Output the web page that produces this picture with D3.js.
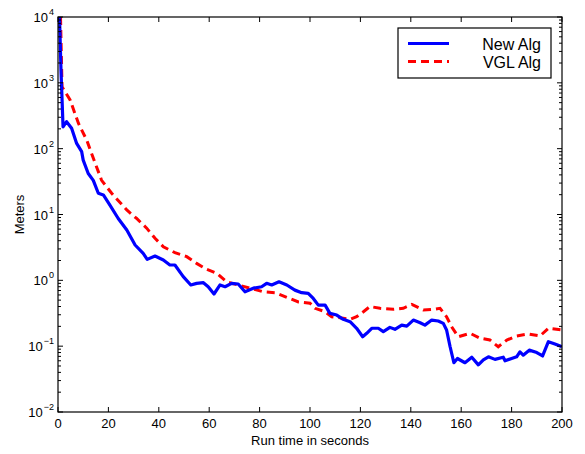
<!DOCTYPE html>
<html>
<head>
<meta charset="utf-8">
<script src="https://cdn.jsdelivr.net/npm/d3@7"></script>
<style>
  body { margin: 0; background: #fff; }
  svg { display: block; font-family: "Liberation Sans", Arial, Helvetica, sans-serif; }
</style>
</head>
<body>
<div id="chart"></div>
<script>
//Data
const newAlgTime = [0.6, 1.2, 2.0, 3.4, 5.4, 7.4, 9.4, 10.0, 12.0, 14.0, 16.0, 18.0, 20.6, 23.9, 27.3, 30.6, 33.8, 35.4, 38.5, 41.8, 44.4, 46.4, 49.7, 52.7, 55.0, 57.7, 59.6, 61.9, 64.3, 66.3, 68.9, 71.5, 74.2, 77.5, 80.8, 82.8, 84.8, 87.7, 90.8, 94.0, 96.7, 99.3, 101.3, 103.3, 106.0, 107.9, 110.6, 113.2, 115.9, 118.5, 120.9, 122.5, 124.5, 127.1, 129.1, 131.7, 133.7, 136.4, 138.4, 141.0, 143.7, 145.6, 148.3, 150.9, 152.9, 154.2, 155.6, 157.1, 158.5, 161.5, 164.2, 166.8, 168.8, 170.8, 173.4, 176.7, 177.4, 180.0, 182.0, 183.3, 184.6, 187.0, 190.0, 192.3, 194.6, 197.2, 200];
const newAlgMeters = [10000, 1500, 215, 257, 204, 120, 90, 67, 42, 33, 21, 19.8, 13.9, 8.7, 5.8, 3.44, 2.57, 2.08, 2.34, 2.04, 1.71, 1.71, 1.14, 0.85, 0.90, 0.92, 0.80, 0.62, 0.85, 0.80, 0.90, 0.88, 0.67, 0.76, 0.80, 0.90, 0.85, 0.95, 0.85, 0.71, 0.65, 0.635, 0.53, 0.42, 0.42, 0.315, 0.297, 0.256, 0.235, 0.187, 0.139, 0.157, 0.187, 0.187, 0.166, 0.193, 0.180, 0.209, 0.202, 0.249, 0.227, 0.209, 0.249, 0.241, 0.222, 0.176, 0.098, 0.056, 0.065, 0.056, 0.068, 0.052, 0.062, 0.069, 0.063, 0.068, 0.060, 0.065, 0.069, 0.082, 0.073, 0.087, 0.080, 0.071, 0.117, 0.108, 0.098];

const vglAlgTime = [1.0, 1.6, 4.8, 8.1, 11.4, 13.3, 17.3, 21.3, 27.3, 31.2, 35.2, 38.5, 41.8, 46.4, 51.1, 55.0, 59.0, 63.0, 66.9, 71.5, 76.2, 81.5, 86.1, 90.8, 95.4, 100.0, 102.0, 106.0, 108.6, 111.9, 115.9, 118.5, 121.2, 123.8, 127.8, 133.1, 137.0, 140.4, 145.0, 148.9, 151.6, 154.2, 156.2, 158.8, 163.5, 167.5, 171.4, 174.7, 178.1, 182.0, 186.6, 191.3, 194.6, 200];
const vglAlgMeters = [10000, 870, 550, 243, 135, 85, 33, 21, 11.7, 8.7, 6.2, 4.35, 3.24, 2.63, 2.29, 1.81, 1.47, 1.28, 0.95, 0.85, 0.76, 0.67, 0.65, 0.55, 0.47, 0.45, 0.376, 0.334, 0.28, 0.27, 0.256, 0.28, 0.334, 0.40, 0.376, 0.363, 0.376, 0.43, 0.354, 0.363, 0.376, 0.28, 0.197, 0.139, 0.157, 0.132, 0.124, 0.098, 0.124, 0.143, 0.153, 0.143, 0.187, 0.176];

const xTicks = [0, 20, 40, 60, 80, 100, 120, 140, 160, 180, 200];
const yDecades = [-2, -1, 0, 1, 2, 3, 4];
const seriesNames = ["New Alg", "VGL Alg"];

//Chart Variables and Constants
const width = 585;
const height = 454;
const margin = { top: 17, right: 23, bottom: 42, left: 58 };
const innerW = width - margin.left - margin.right;
const innerH = height - margin.top - margin.bottom;

const svg = d3
  .select("#chart")
  .append("svg")
  .attr("width", width)
  .attr("height", height);

const x = d3.scaleLinear().domain([0, 200]).range([0, innerW]);
const y = d3.scaleLog().domain([1e-2, 1e4]).range([innerH, 0]);

const g = svg
  .append("g")
  .attr("transform", `translate(${margin.left}, ${margin.top})`);

//Clip lines to the axes box
g.append("clipPath")
  .attr("id", "clip")
  .append("rect")
  .attr("width", innerW)
  .attr("height", innerH);

const line = d3
  .line()
  .x((d) => x(d[0]))
  .y((d) => y(d[1]));

const newAlg = newAlgTime.map((t, i) => [t, newAlgMeters[i]]);
const vglAlg = vglAlgTime.map((t, i) => [t, vglAlgMeters[i]]);

const lines = g.append("g").attr("clip-path", "url(#clip)");

lines
  .append("path")
  .datum(vglAlg)
  .attr("d", line)
  .attr("fill", "none")
  .attr("stroke", "#ff0000")
  .attr("stroke-width", 3)
  .attr("stroke-dasharray", "8,5");

lines
  .append("path")
  .datum(newAlg)
  .attr("d", line)
  .attr("fill", "none")
  .attr("stroke", "#0000ff")
  .attr("stroke-width", 3.2)
  .attr("stroke-linejoin", "round");

//Ticks pointing inward on all four sides
const minorTicks = y.ticks().filter((v) => Math.abs(Math.log10(v) - Math.round(Math.log10(v))) > 1e-6);
const majorTicks = yDecades.map((e) => Math.pow(10, e));

const ticks = g.append("g").attr("stroke", "#000").attr("stroke-width", 1);

xTicks.forEach((t) => {
  ticks.append("line").attr("x1", x(t)).attr("x2", x(t)).attr("y1", innerH).attr("y2", innerH - 5);
  ticks.append("line").attr("x1", x(t)).attr("x2", x(t)).attr("y1", 0).attr("y2", 5);
});

majorTicks.forEach((v) => {
  ticks.append("line").attr("x1", 0).attr("x2", 5).attr("y1", y(v)).attr("y2", y(v));
  ticks.append("line").attr("x1", innerW).attr("x2", innerW - 5).attr("y1", y(v)).attr("y2", y(v));
});

minorTicks.forEach((v) => {
  ticks.append("line").attr("x1", 0).attr("x2", 3).attr("y1", y(v)).attr("y2", y(v));
  ticks.append("line").attr("x1", innerW).attr("x2", innerW - 3).attr("y1", y(v)).attr("y2", y(v));
});

//Axes box
g.append("rect")
  .attr("width", innerW)
  .attr("height", innerH)
  .attr("fill", "none")
  .attr("stroke", "#000")
  .attr("stroke-width", 1.2);

//X tick labels
g.append("g")
  .selectAll("text")
  .data(xTicks)
  .enter()
  .append("text")
  .attr("x", (d) => x(d))
  .attr("y", innerH + 16)
  .attr("text-anchor", "middle")
  .attr("font-size", "13px")
  .attr("fill", "#000")
  .text((d) => d);

//Y tick labels as 10^n
const yLabels = g
  .append("g")
  .selectAll("text")
  .data(yDecades)
  .enter()
  .append("text")
  .attr("x", -4)
  .attr("y", (d) => y(Math.pow(10, d)) + 5)
  .attr("text-anchor", "end")
  .attr("font-size", "13px")
  .attr("fill", "#000");

yLabels.append("tspan").text("10");
yLabels
  .append("tspan")
  .attr("dy", -7)
  .attr("dx", 1)
  .attr("font-size", "9px")
  .text((d) => (d < 0 ? "\u2212" + Math.abs(d) : d));

//Axis titles
svg
  .append("text")
  .attr("x", margin.left + innerW / 2)
  .attr("y", 445)
  .attr("text-anchor", "middle")
  .attr("font-size", "13px")
  .text("Run time in seconds");

svg
  .append("text")
  .attr("transform", `translate(24, ${margin.top + innerH / 2}) rotate(-90)`)
  .attr("text-anchor", "middle")
  .attr("font-size", "13px")
  .text("Meters");

//Legend
const legend = svg.append("g").attr("transform", "translate(398, 28)");

legend
  .append("rect")
  .attr("width", 153)
  .attr("height", 50)
  .attr("fill", "#fff")
  .attr("stroke", "#000")
  .attr("stroke-width", 1.2);

const legendStyles = [
  { color: "#0000ff", dash: null },
  { color: "#ff0000", dash: "8,5" },
];

seriesNames.forEach((name, i) => {
  const ly = 15.5 + i * 18;
  legend
    .append("line")
    .attr("x1", 10)
    .attr("x2", 51)
    .attr("y1", ly)
    .attr("y2", ly)
    .attr("stroke", legendStyles[i].color)
    .attr("stroke-width", 3.2)
    .attr("stroke-dasharray", legendStyles[i].dash);
  legend
    .append("text")
    .attr("x", 143)
    .attr("y", ly + 6)
    .attr("text-anchor", "end")
    .attr("font-size", "16px")
    .text(name);
});
</script>
</body>
</html>
